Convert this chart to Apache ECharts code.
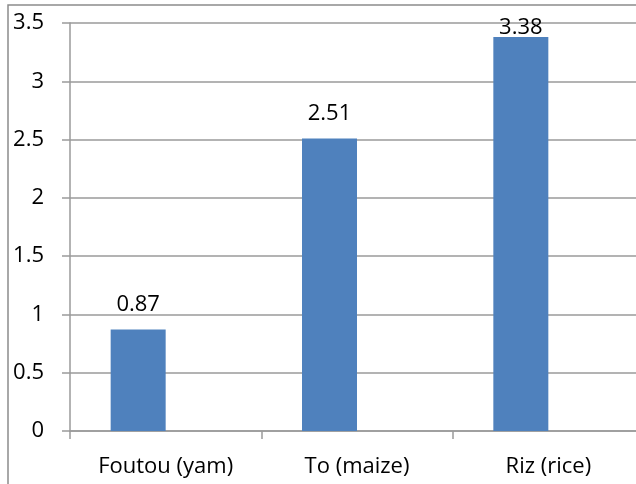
<!DOCTYPE html>
<html>
<head>
<meta charset="utf-8">
<script src="https://cdn.jsdelivr.net/npm/echarts@6/dist/echarts.min.js"></script>
<style>
  html, body { margin: 0; padding: 0; background: #fff; }
  #chart { width: 636px; height: 484px; }
</style>
</head>
<body>
<div id="chart"></div>
<script>
// Staple foods and their values
const categories = ['Foutou (yam)', 'To (maize)', 'Riz (rice)'];
const values = [0.87, 2.51, 3.38];
// Empty companion series keeps the bars to the left of each category slot
const emptyValues = ['-', '-', '-'];
const yTicks = { min: 0, max: 3.5, interval: 0.5 };

const chart = echarts.init(document.getElementById('chart'), null, { renderer: 'canvas' });
const font = 'Open Sans';
const fontSize = 22;
const gridColor = '#9a9a9a';

chart.setOption({
  animation: false,
  backgroundColor: '#ffffff',
  graphic: [{
    type: 'rect',
    shape: { x: 8, y: 5, width: 660, height: 520 },
    style: { fill: 'none', stroke: '#8c8c8c', lineWidth: 1.5 },
    silent: true
  }],
  grid: { left: 70, top: 23, width: 574, height: 408, outerBoundsMode: 'none' },
  xAxis: {
    type: 'category',
    data: categories,
    boundaryGap: true,
    axisLine: { show: true, lineStyle: { color: gridColor, width: 1.5 } },
    axisTick: { show: true, length: 8, inside: false, alignWithLabel: false, lineStyle: { color: gridColor, width: 1.5 } },
    axisLabel: { color: '#000', fontFamily: font, fontSize: fontSize, margin: 25, interval: 0 },
    splitLine: { show: false }
  },
  yAxis: {
    type: 'value',
    min: yTicks.min,
    max: yTicks.max,
    interval: yTicks.interval,
    axisLine: { show: true, lineStyle: { color: gridColor, width: 1.5 } },
    axisTick: { show: true, length: 8, inside: false, lineStyle: { color: gridColor, width: 1.5 } },
    axisLabel: {
      color: '#000', fontFamily: font, fontSize: fontSize, margin: 26,
      formatter: v => String(v)
    },
    splitLine: { show: true, lineStyle: { color: gridColor, width: 1.5 } }
  },
  series: [
    {
      type: 'bar',
      data: values.map(v => ({
        value: v,
        label: { distance: v > 3.3 ? -2 : 14 }
      })),
      barWidth: 55,
      barGap: '0%',
      itemStyle: { color: '#4F81BD' },
      label: {
        show: true,
        position: 'top',
        color: '#000',
        fontFamily: font,
        fontSize: fontSize,
        formatter: p => p.value.toFixed(2)
      }
    },
    {
      type: 'bar',
      data: emptyValues,
      barWidth: 55,
      barGap: '0%',
      itemStyle: { color: '#C0504D' }
    }
  ]
});
</script>
</body>
</html>
